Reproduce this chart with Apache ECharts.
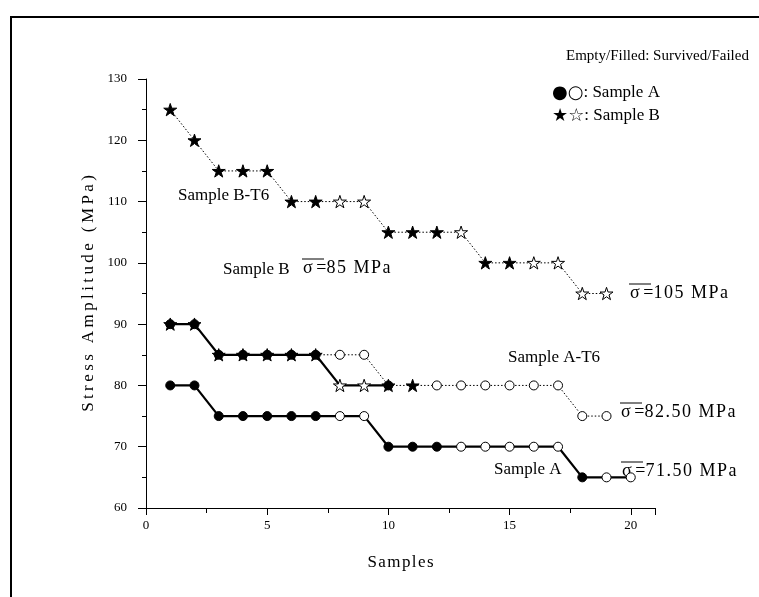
<!DOCTYPE html>
<html>
<head>
<meta charset="utf-8">
<script src="https://cdn.jsdelivr.net/npm/echarts@6/dist/echarts.min.js"></script>
<style>
  html, body { margin: 0; padding: 0; background: #fff; }
  #chart { width: 759px; height: 597px; }
</style>
</head>
<body>
<div id="chart"></div>
<script>
// sample index 1..20
const samples = [1, 2, 3, 4, 5, 6, 7, 8, 9, 10, 11, 12, 13, 14, 15, 16, 17, 18, 19, 20];

// stress amplitude (MPa), 1 = failed (filled), 0 = survived (empty)
const sampleA      = [80, 80, 75, 75, 75, 75, 75, 75, 75, 70, 70, 70, 70, 70, 70, 70, 70, 65, 65, 65];
const sampleAFail  = [1, 1, 1, 1, 1, 1, 1, 0, 0, 1, 1, 1, 0, 0, 0, 0, 0, 1, 0, 0];

const sampleB      = [90, 90, 85, 85, 85, 85, 85, 80, 80, 80];
const sampleBFail  = [1, 1, 1, 1, 1, 1, 1, 0, 0, 1];

const sampleAT6     = [90, 90, 85, 85, 85, 85, 85, 85, 85, 80, 80, 80, 80, 80, 80, 80, 80, 75, 75];
const sampleAT6Fail = [1, 1, 1, 1, 1, 1, 1, 0, 0, 1, 1, 0, 0, 0, 0, 0, 0, 0, 0];

const sampleBT6     = [125, 120, 115, 115, 115, 110, 110, 110, 110, 105, 105, 105, 105, 100, 100, 100, 100, 95, 95];
const sampleBT6Fail = [1, 1, 1, 1, 1, 1, 1, 0, 0, 1, 1, 1, 0, 1, 1, 0, 0, 0, 0];

const STAR = 'path://M50 0 L61.2 34.5 L97.6 34.5 L68.2 55.9 L79.4 90.5 L50 69.1 L20.6 90.5 L31.8 55.9 L2.4 34.5 L38.8 34.5 Z';
const FONT = 'Liberation Serif';

function pts(vals, fails, starAt) {
    return vals.map((v, i) => {
        const d = { value: [samples[i], v], itemStyle: { color: fails[i] ? '#000' : '#fff' } };
        if (starAt && starAt.includes(i)) { d.symbol = STAR; d.symbolSize = 13; }
        return d;
    });
}

function series(name, data, symbol, size, dotted) {
    return {
        name, type: 'line', data, symbol, symbolSize: size, symbolKeepAspect: true,
        lineStyle: { color: '#000', width: dotted ? 1 : 2.2, type: dotted ? [1.5, 2] : 'solid' },
        itemStyle: { borderColor: '#000', borderWidth: 1 },
        emphasis: { disabled: true }, animation: false, z: dotted ? 2 : 3
    };
}

// spread letters a bit, the figure text is rendered loose
const spread = (s, sp) => s.split('').join(sp);

function txt(x, y, s, size) {
    return { type: 'text', x, y, style: { text: s, font: (size || 17) + 'px "' + FONT + '"', fill: '#000', verticalAlign: 'middle' } };
}
function sigma(x, y, rest) {
    return [
        txt(x, y, 'σ\u2009=' + spread(rest, '\u200a'), 18),
        { type: 'line', shape: { x1: x - 1, y1: y - 9, x2: x + 21, y2: y - 9 }, style: { stroke: '#000', lineWidth: 1 } }
    ];
}
function legendLine(x, y, sym, s) {
    return {
        type: 'text', x, y,
        style: {
            text: '{s|' + sym + '}{t|' + s + '}', verticalAlign: 'middle', fill: '#000',
            rich: { s: { fontSize: 18, fontFamily: 'DejaVu Sans', fill: '#000' }, t: { fontSize: 17, fontFamily: FONT, fill: '#000' } }
        }
    };
}

const chart = echarts.init(document.getElementById('chart'));
chart.setOption({
    backgroundColor: '#fff',
    animation: false,
    grid: { left: 146, top: 79, right: 104, bottom: 89 },
    xAxis: {
        type: 'value', min: 0, max: 21, interval: 5,
        name: spread('Samples', '\u200a'), nameLocation: 'middle', nameGap: 46,
        nameTextStyle: { fontFamily: FONT, fontSize: 17, color: '#000' },
        axisLine: { lineStyle: { color: '#000', width: 1 } },
        axisTick: { length: 7, lineStyle: { color: '#000' } },
        minorTick: { show: true, splitNumber: 2, length: 5, lineStyle: { color: '#000' } },
        axisLabel: { fontFamily: FONT, fontSize: 13, color: '#000', margin: 11,
            formatter: v => (v % 5 === 0 && v <= 20) ? String(v) : '' },
        splitLine: { show: false }
    },
    yAxis: {
        type: 'value', min: 60, max: 130, interval: 10,
        name: spread('Stress Amplitude (MPa)', '\u2009'), nameLocation: 'middle', nameGap: 45,
        nameTextStyle: { fontFamily: FONT, fontSize: 17, color: '#000' },
        axisLine: { lineStyle: { color: '#000', width: 1 } },
        axisTick: { length: 8, lineStyle: { color: '#000' } },
        minorTick: { show: true, splitNumber: 2, length: 4, lineStyle: { color: '#000' } },
        axisLabel: { fontFamily: FONT, fontSize: 13, color: '#000', margin: 19 },
        splitLine: { show: false }
    },
    series: [
        series('Sample B-T6', pts(sampleBT6, sampleBT6Fail), STAR, 13, true),
        series('Sample A-T6', pts(sampleAT6, sampleAT6Fail, [10]), 'circle', 9, true),
        series('Sample A', pts(sampleA, sampleAFail), 'circle', 9, false),
        series('Sample B', pts(sampleB, sampleBFail), STAR, 13, false)
    ],
    graphic: [
        { type: 'polyline', shape: { points: [[11, 597], [11, 17], [759, 17]] }, style: { stroke: '#000', lineWidth: 2, fill: null } },
        txt(566, 56, 'Empty/Filled: Survived/Failed', 15),
        legendLine(552, 93, '●○', ': Sample A'),
        legendLine(552, 116, '★☆', ': Sample B'),
        txt(178, 196, 'Sample B-T6'),
        txt(223, 270, 'Sample B'),
        ...sigma(303, 268, '85 MPa'),
        txt(508, 358, 'Sample A-T6'),
        ...sigma(621, 412, '82.50 MPa'),
        txt(494, 470, 'Sample A'),
        ...sigma(622, 471, '71.50 MPa'),
        ...sigma(630, 293, '105 MPa')
    ]
});
</script>
</body>
</html>
